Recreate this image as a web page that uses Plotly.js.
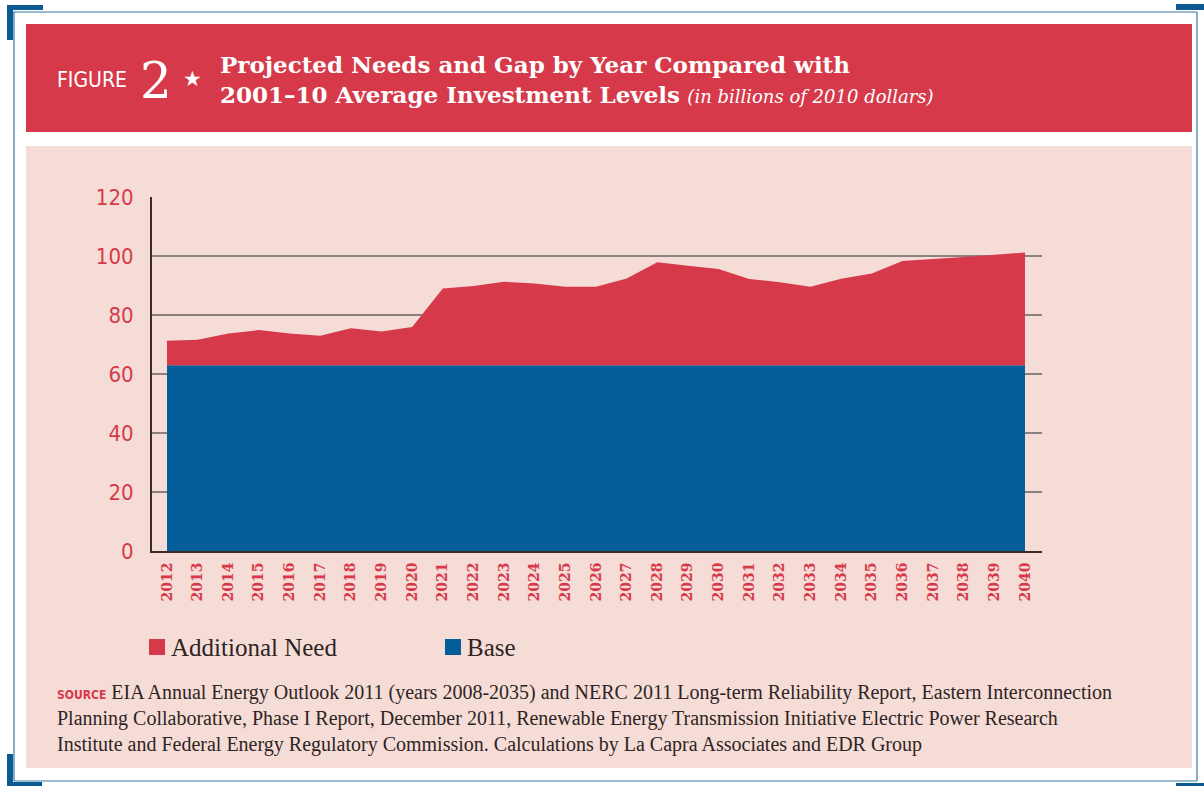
<!DOCTYPE html>
<html>
<head>
<meta charset="utf-8">
<script src="https://cdn.plot.ly/plotly-3.0.1.min.js"></script>
<style>
html,body{margin:0;padding:0;background:#ffffff;}
#chart{width:1204px;height:786px;}
</style>
</head>
<body>
<div id="chart"></div>
<script>
// ---- data (billions of 2010 dollars) ----
var years = [2012,2013,2014,2015,2016,2017,2018,2019,2020,2021,2022,2023,2024,2025,2026,
             2027,2028,2029,2030,2031,2032,2033,2034,2035,2036,2037,2038,2039,2040];
var base = [63,63,63,63,63,63,63,63,63,63,63,63,63,63,63,
            63,63,63,63,63,63,63,63,63,63,63,63,63,63];
var additionalNeed = [8.3,8.6,10.7,11.9,10.7,10.0,12.5,11.4,12.9,26.0,26.8,28.3,27.7,26.6,26.6,
                      29.4,34.9,33.7,32.6,29.2,28.1,26.6,29.3,31.1,35.3,36.0,36.7,37.4,38.2];
var yTicks = [0,20,40,60,80,100,120];
var seriesNames = ['Base','Additional Need'];

// ---- style ----
var RED = '#d63a4a';
var BLUE = '#035d99';
var PINK = '#f6dcd6';
var FRAME = '#0b5a92';
var TEXT = '#2e2424';

// plot area in pixels: x 152..1042, y 197..551
var L = 152, R = 1042, T = 197, B = 551;
function px(x){ return (x - L) / (R - L); }
function py(y){ return (B - y) / (B - T); }
function rect(x0,y0,x1,y1,color){
  return {type:'rect', xref:'paper', yref:'paper', x0:px(x0), x1:px(x1), y0:py(y1), y1:py(y0),
          fillcolor:color, line:{width:0}, layer:'below'};
}
function line(x0,y0,x1,y1,color,w){
  return {type:'line', xref:'paper', yref:'paper', x0:px(x0), x1:px(x1), y0:py(y0), y1:py(y1),
          line:{color:color, width:w}, layer:'below'};
}

var traces = [
  {x: years, y: base, name: seriesNames[0], type:'scatter', mode:'none',
   stackgroup:'one', fillcolor: BLUE, line:{width:0}, showlegend:false},
  {x: years, y: additionalNeed, name: seriesNames[1], type:'scatter', mode:'none',
   stackgroup:'one', fillcolor: RED, line:{width:0}, showlegend:false}
];

var shapes = [
  // frame
  rect(7,5,43,10,FRAME), rect(7,5,13,40,FRAME),
  rect(1176,4,1204,10,FRAME),
  rect(7,754,13,786,FRAME), rect(7,782,42,786,FRAME),
  rect(1176,783,1204,786,FRAME),
  line(13,12,1197,12,'#3a78a6',1.2),
  line(14,12,14,781,'#3a78a6',1.2),
  line(1197,12,1197,781,'#3a78a6',1.2),
  line(14,781,1197,781,'#3a78a6',1.2),
  // header band and panel
  rect(26,24,1192,132,RED),
  rect(26,146,1192,768,PINK),
  // legend swatches
  rect(149,639,165,655,RED),
  rect(445,639,461,655,BLUE)
];

var annotations = [
  {xref:'paper', yref:'paper', x:px(55), y:py(80), xanchor:'left', yanchor:'middle', showarrow:false,
   text:'FIGURE', font:{family:'"Liberation Sans Narrow", "DejaVu Sans Condensed", Roboto, sans-serif', size:21, color:'#ffffff'}},
  {xref:'paper', yref:'paper', x:px(138), y:py(81), xanchor:'left', yanchor:'middle', showarrow:false,
   text:'2', font:{family:'"DejaVu Serif", "Liberation Serif", serif', size:50, color:'#ffffff'}},
  {xref:'paper', yref:'paper', x:px(181), y:py(79), xanchor:'left', yanchor:'middle', showarrow:false,
   text:'★', font:{family:'"DejaVu Sans", sans-serif', size:21, color:'#ffffff'}},
  // legend texts
  {xref:'paper', yref:'paper', x:px(169), y:py(647), xanchor:'left', yanchor:'middle', showarrow:false,
   text:seriesNames[1], font:{family:'"Liberation Serif", "DejaVu Serif", serif', size:25, color:TEXT}},
  {xref:'paper', yref:'paper', x:px(465), y:py(647), xanchor:'left', yanchor:'middle', showarrow:false,
   text:seriesNames[0], font:{family:'"Liberation Serif", "DejaVu Serif", serif', size:25, color:TEXT}},
  // source
  {xref:'paper', yref:'paper', x:px(55), y:py(679), xanchor:'left', yanchor:'top', align:'left', showarrow:false,
   text:'<span style="font-family:\'Liberation Sans Narrow\', \'DejaVu Sans Condensed\', sans-serif;color:' + RED + ';font-weight:bold;font-size:12px">SOURCE</span> EIA Annual Energy Outlook 2011 (years 2008-2035) and NERC 2011 Long-term Reliability Report, Eastern Interconnection<br>Planning Collaborative, Phase I Report, December 2011, Renewable Energy Transmission Initiative Electric Power Research<br>Institute and Federal Energy Regulatory Commission. Calculations by La Capra Associates and EDR Group',
   font:{family:'"Liberation Serif", "DejaVu Serif", serif', size:20, color:TEXT}}
];

var layout = {
  width:1204, height:786,
  margin:{l:L, r:1204-R, t:T, b:786-B, pad:0},
  paper_bgcolor:'#ffffff',
  plot_bgcolor:'rgba(0,0,0,0)',
  showlegend:false,
  title:{
    text:'<b>Projected Needs and Gap by Year Compared with<br>2001–10 Average Investment Levels</b> <i><span style="font-size:18px">(in billions of 2010 dollars)</span></i>',
    x:220/1204, xref:'container', xanchor:'left',
    y:1-73/786, yref:'container', yanchor:'middle',
    font:{family:'"DejaVu Serif", "Liberation Serif", serif', size:23, color:'#ffffff'}
  },
  xaxis:{
    range:[2011.51, 2040.555],
    tickmode:'array', tickvals:years, ticktext:years.map(String),
    tickangle:-90, ticks:'', showgrid:false, zeroline:false,
    showline:true, linecolor:'#3a2a2a', linewidth:2,
    ticklabelstandoff:4,
    tickfont:{family:'"DejaVu Serif", "Liberation Serif", serif', size:14, color:RED, weight:'bold'}
  },
  yaxis:{
    range:[0,120], tickmode:'array', tickvals:yTicks, ticktext:yTicks.map(String),
    showgrid:true, gridcolor:'#8c8181', gridwidth:1.2, zeroline:false,
    showline:true, linecolor:'#3a2a2a', linewidth:2,
    ticks:'', ticklabelstandoff:12,
    tickfont:{family:'"Liberation Sans Narrow", "DejaVu Sans Condensed", sans-serif', size:22, color:RED}
  },
  shapes:shapes,
  annotations:annotations
};

Plotly.newPlot('chart', traces, layout, {staticPlot:true, displayModeBar:false});
</script>
</body>
</html>
